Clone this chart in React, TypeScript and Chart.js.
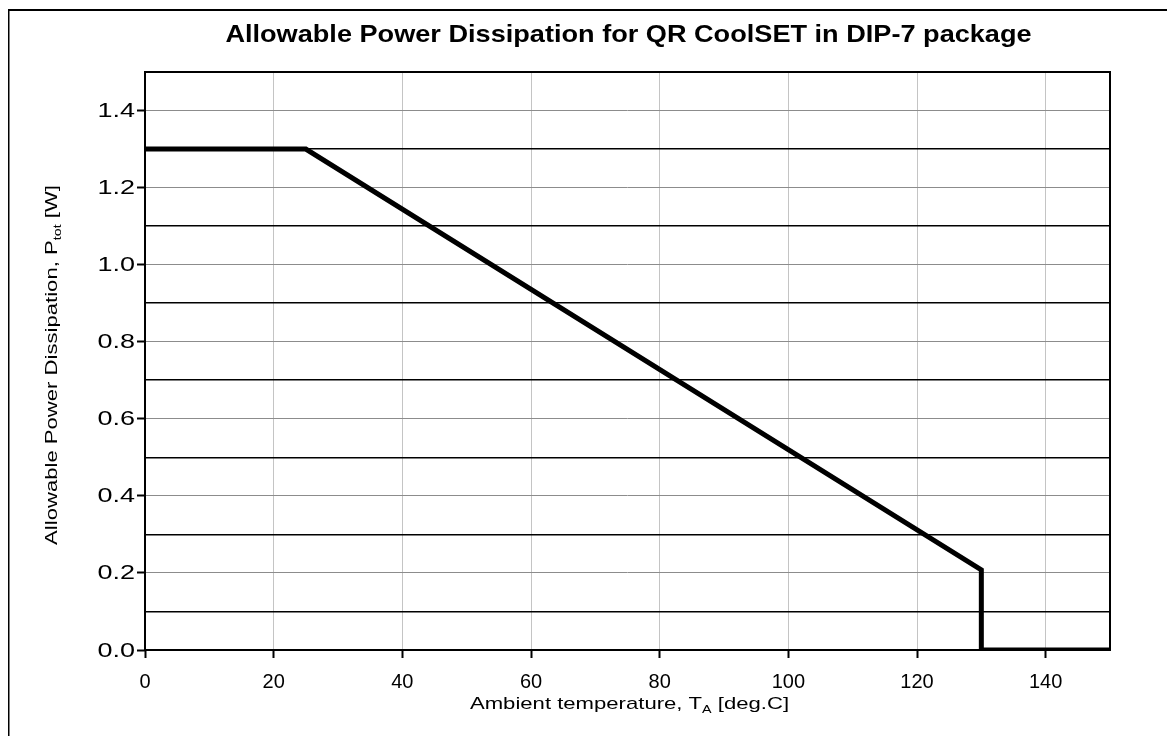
import React, { useEffect, useRef } from "react";
import { Chart, registerables } from "chart.js";

Chart.register(...registerables);

const TITLE = "Allowable Power Dissipation for QR CoolSET in DIP-7 package";
const TEMPERATURE = [0, 25, 130, 130, 150];
const POWER = [1.3, 1.3, 0.208, 0, 0];
const X_TICKS = [0, 20, 40, 60, 80, 100, 120, 140];
const Y_TICKS = [0, 0.1, 0.2, 0.3, 0.4, 0.5, 0.6, 0.7, 0.8, 0.9, 1.0, 1.1, 1.2, 1.3, 1.4, 1.5];
const Y_LABELLED = [0, 0.2, 0.4, 0.6, 0.8, 1.0, 1.2, 1.4];
const X_TITLE = [
  { text: "Ambient temperature, T", sub: false },
  { text: "A", sub: true },
  { text: " [deg.C]", sub: false },
];
const Y_TITLE = [
  { text: "Allowable Power Dissipation, P", sub: false },
  { text: "tot", sub: true },
  { text: " [W]", sub: false },
];

const FONT = "'Liberation Sans', Arial, sans-serif";

function isLabelled(v: number) {
  return Y_LABELLED.some((t) => Math.abs(t - v) < 1e-6);
}

function drawParts(ctx: CanvasRenderingContext2D, parts: { text: string; sub: boolean }[], size: number, subSize: number) {
  const fontMain = `${size}px ${FONT}`;
  const fontSub = `${subSize}px ${FONT}`;
  let total = 0;
  for (const p of parts) {
    ctx.font = p.sub ? fontSub : fontMain;
    total += ctx.measureText(p.text).width;
  }
  let x = -total / 2;
  for (const p of parts) {
    ctx.font = p.sub ? fontSub : fontMain;
    ctx.fillText(p.text, x, p.sub ? 4 : 0);
    x += ctx.measureText(p.text).width;
  }
}

const decorPlugin = {
  id: "decor",
  beforeDatasetsDraw(chart: any) {
    const { ctx, chartArea } = chart;
    ctx.save();
    ctx.strokeStyle = "#000";
    ctx.lineWidth = 2;
    ctx.strokeRect(chartArea.left, chartArea.top, chartArea.right - chartArea.left, chartArea.bottom - chartArea.top);
    ctx.restore();
  },
  afterDraw(chart: any) {
    const { ctx, chartArea } = chart;
    ctx.save();
    // outer frame (left and top edges visible)
    ctx.strokeStyle = "#000";
    ctx.lineWidth = 2;
    ctx.beginPath();
    ctx.moveTo(0.5, chart.height);
    ctx.lineTo(0.5, 2);
    ctx.lineTo(chart.width, 2);
    ctx.stroke();

    ctx.fillStyle = "#000";
    ctx.textBaseline = "alphabetic";
    ctx.textAlign = "left";
    const cx = (chartArea.left + chartArea.right) / 2;
    const cy = (chartArea.top + chartArea.bottom) / 2;

    // title
    ctx.save();
    ctx.translate(cx + 1, 34);
    ctx.scale(1.13, 1);
    ctx.font = `bold 24px ${FONT}`;
    const tw = ctx.measureText(TITLE).width;
    ctx.fillText(TITLE, -tw / 2, 0);
    ctx.restore();

    // x title
    ctx.save();
    ctx.translate(cx + 2, 701);
    ctx.scale(1.3, 1);
    drawParts(ctx, X_TITLE, 17, 11);
    ctx.restore();

    // y title
    ctx.save();
    ctx.translate(49, cy + 4);
    ctx.rotate(-Math.PI / 2);
    ctx.scale(1.3, 1);
    drawParts(ctx, Y_TITLE, 17, 11);
    ctx.restore();

    // y tick labels
    const ys = chart.scales.y;
    ctx.textBaseline = "middle";
    ctx.textAlign = "right";
    ctx.font = `20px ${FONT}`;
    for (const v of Y_LABELLED) {
      const py = ys.getPixelForValue(v);
      ctx.save();
      ctx.translate(chartArea.left - 10, py + 1);
      ctx.scale(1.35, 1);
      ctx.fillText(v.toFixed(1), 0, 0);
      ctx.restore();
    }

    ctx.restore();
  },
};

export default function App() {
  const ref = useRef<HTMLCanvasElement>(null);
  useEffect(() => {
    document.documentElement.style.overflow = "hidden";
    document.body.style.overflow = "hidden";
    if (!ref.current) return;
    const chart = new Chart(ref.current, {
      type: "scatter",
      data: {
        datasets: [
          {
            data: TEMPERATURE.map((t, i) => ({ x: t, y: POWER[i] })),
            showLine: true,
            borderColor: "#000",
            backgroundColor: "#000",
            borderWidth: 5,
            pointRadius: 0,
            borderJoinStyle: "miter",
          },
        ],
      },
      options: {
        animation: false,
        responsive: true,
        maintainAspectRatio: false,
        layout: { padding: { top: 64, left: 0, right: 65, bottom: 0 } },
        plugins: { legend: { display: false }, tooltip: { enabled: false }, title: { display: false } },
        scales: {
          x: {
            type: "linear",
            min: 0,
            max: 150,
            afterBuildTicks: (s: any) => {
              s.ticks = X_TICKS.map((v) => ({ value: v }));
            },
            afterFit: (s: any) => {
              s.height = 86;
            },
            border: { display: false },
            grid: {
              color: "#c4c4c4",
              lineWidth: 1,
              tickColor: "#000",
              tickLength: 8,
              tickWidth: 2,
            },
            ticks: {
              color: "#000",
              font: { family: FONT, size: 20 },
              padding: 12,
              maxRotation: 0,
              callback: (v: any) => String(v),
            },
          },
          y: {
            type: "linear",
            min: 0,
            max: 1.5,
            afterBuildTicks: (s: any) => {
              s.ticks = Y_TICKS.map((v) => ({ value: v }));
            },
            afterFit: (s: any) => {
              s.width = 137;
            },
            border: { display: false },
            grid: {
              color: (c: any) => (isLabelled(c.tick.value) ? "#8c8c8c" : "#000"),
              lineWidth: (c: any) => (isLabelled(c.tick.value) ? 1 : 1.6),
              tickColor: (c: any) => (isLabelled(c.tick.value) ? "#000" : "rgba(0,0,0,0)"),
              tickLength: 8,
              tickWidth: 2,
            },
            ticks: {
              color: "#000",
              font: { family: FONT, size: 18 },
              padding: 2,
              callback: () => "",
            },
          },
        },
      },
      plugins: [decorPlugin],
    } as any);
    return () => chart.destroy();
  }, []);
  return (
    <div style={{ position: "relative", width: 1167, height: 728 }}>
      <canvas ref={ref} />
    </div>
  );
}
